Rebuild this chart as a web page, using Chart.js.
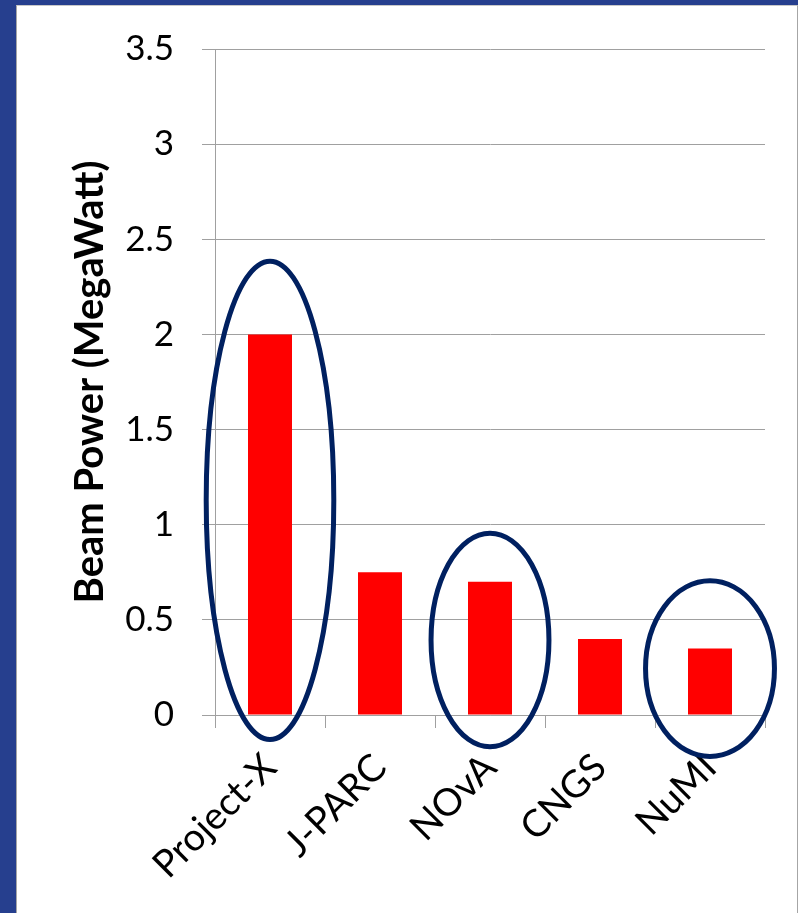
<!DOCTYPE html>
<html>
<head>
<meta charset="utf-8">
<script src="https://cdn.jsdelivr.net/npm/chart.js@4/dist/chart.umd.min.js"></script>
<style>
  html, body { margin: 0; padding: 0; }
  body { width: 798px; height: 913px; background: #263f8e; position: relative; overflow: hidden; }
  #panel {
    position: absolute; left: 16px; top: 5px; width: 780px; height: 908px;
    background: #ffffff; border-left: 1px solid #a6a6a6; border-right: 1px solid #a6a6a6; border-top: 1px solid #c8c8c8;
  }
  #chart { position: absolute; left: 0; top: 0; }
</style>
</head>
<body>
<div id="panel"></div>
<canvas id="chart" width="798" height="913"></canvas>
<script>
// данные
const categories = ["Project-X", "J-PARC", "NOvA", "CNGS", "NuMI"];
const beamPower = [2.0, 0.75, 0.7, 0.4, 0.35];
const yTicks = [0, 0.5, 1, 1.5, 2, 2.5, 3, 3.5];

// обведённые эллипсами столбцы: индекс, центр по оси Y и полуоси (в единицах осей)
const circledIndex = [0, 2, 4];
const circleCenterY = [1.128, 0.394, 0.244];
const circleRadiusY = [1.257, 0.561, 0.462];
const circleRadiusX = [0.58, 0.536, 0.586];

const ellipsePlugin = {
    id: "ellipses",
    afterDatasetsDraw(chart) {
        const x = chart.scales.x;
        const y = chart.scales.y;
        const catWidth = x.width / categories.length;
        const ctx = chart.ctx;
        ctx.save();
        ctx.strokeStyle = "#002060";
        ctx.lineWidth = 5;
        for (let i = 0; i < circledIndex.length; i++) {
            const cx = x.getPixelForValue(circledIndex[i]);
            const cy = y.getPixelForValue(circleCenterY[i]);
            const ry = y.getPixelForValue(0) - y.getPixelForValue(circleRadiusY[i]);
            const rx = circleRadiusX[i] * catWidth;
            ctx.beginPath();
            ctx.ellipse(cx, cy, rx, ry, 0, 0, Math.PI * 2);
            ctx.stroke();
        }
        ctx.restore();
    }
};

const gridColor = "#a0a0a0";

new Chart(document.getElementById("chart"), {
    type: "bar",
    data: {
        labels: categories,
        datasets: [{
            data: beamPower,
            backgroundColor: "#ff0000",
            borderWidth: 0,
            barPercentage: 0.4,
            categoryPercentage: 1
        }]
    },
    options: {
        responsive: false,
        animation: false,
        layout: { padding: { left: 66, right: 33, top: 48, bottom: 0 } },
        plugins: { legend: { display: false }, tooltip: { enabled: false } },
        scales: {
            x: {
                grid: { drawOnChartArea: false, drawTicks: true, tickLength: 13, color: gridColor, offset: true },
                border: { color: gridColor, width: 1 },
                ticks: {
                    color: "#000",
                    font: { family: "Lato", size: 38 },
                    minRotation: 45,
                    maxRotation: 45,
                    padding: 17
                },
                afterFit(scale) { scale.height = 913 - 715; }
            },
            y: {
                min: 0,
                max: 3.5,
                afterBuildTicks(scale) { scale.ticks = yTicks.map(v => ({ value: v })); },
                grid: { color: gridColor, tickLength: 13 },
                border: { color: gridColor, width: 1 },
                ticks: {
                    color: "#000",
                    font: { family: "Lato", size: 35 },
                    padding: 28,
                    callback: v => String(v)
                },
                title: {
                    display: true,
                    text: "Beam Power (MegaWatt)",
                    color: "#000",
                    font: { family: "Lato", size: 40, weight: "bold" },
                    padding: 0
                },
                afterFit(scale) { scale.width = 215 - 66; }
            }
        }
    },
    plugins: [ellipsePlugin]
});
</script>
</body>
</html>
